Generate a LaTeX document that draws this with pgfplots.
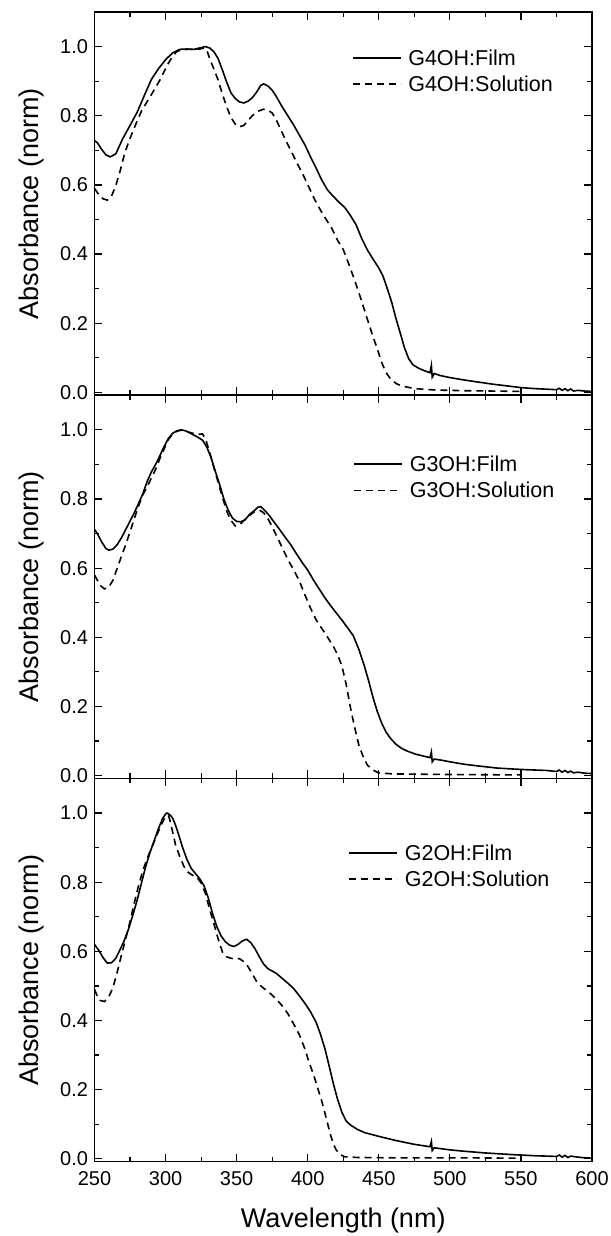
\documentclass[border=0pt]{standalone}
\usepackage{pgfplots}
\pgfplotsset{compat=1.18}
\usepackage{fontspec}
\setmainfont{Liberation Sans}

\pgfplotsset{
  panel/.style={
    width=497.5bp, height=383.2bp, scale only axis,
    xmin=250, xmax=600, ymin=-0.008, ymax=1.10,
    xtick={250,300,350,400,450,500,550,600}, minor x tick num=1,
    ytick={0,0.2,0.4,0.6,0.8,1.0}, minor y tick num=1,
    tick align=inside,
    major tick length=8bp, minor tick length=5bp,
    every tick/.style={line width=1.2bp, black},
    axis line style={line width=1.5bp},
    tick label style={font=\fontsize{20bp}{24bp}\selectfont},
    yticklabel style={/pgf/number format/fixed, /pgf/number format/fixed zerofill, /pgf/number format/precision=1, /pgf/number format/assume math mode=true, xshift=-3bp},
    xticklabel style={/pgf/number format/assume math mode=true, yshift=-6bp},
    ylabel={Absorbance (norm)},
    ylabel style={at={(axis description cs:-0.1276,0.5)}, anchor=center, font=\fontsize{27bp}{32bp}\selectfont},
    legend image code/.code={\draw[#1] (0bp,0bp) -- (48bp,0bp);},
    legend cell align=left,
    legend style={draw=none, fill=none, inner sep=0pt, outer sep=0pt,
      font=\fontsize{21.5bp}{25bp}\selectfont, row sep=9bp, column sep=7bp,
      nodes={inner sep=0pt}, anchor=north west},
  },
  film/.style={black, line width=1.6bp},
  sol/.style={black, line width=1.6bp, dash pattern=on 7bp off 5bp},
}

\begin{document}
\begin{tikzpicture}

% ---------- Panel 1: G4OH ----------
\begin{axis}[panel, name=p1, at={(0bp,0bp)}, anchor=north west, xticklabels={},
  legend style={at={(axis description cs:0.517,0.902)}}]
\addplot[film] coordinates {(250,0.728) (252,0.722) (255,0.703) (258,0.687) (261,0.681) (265,0.690) (270,0.735) (275,0.772) (280,0.810) (285,0.858) (290,0.905) (295,0.936) (300,0.962) (305,0.982) (310,0.992) (315,0.993) (320,0.992) (325,0.997) (328,1.0) (331,0.996) (334,0.985) (337,0.965) (340,0.932) (343,0.897) (346,0.866) (349,0.850) (352,0.840) (355,0.837) (358,0.842) (361,0.852) (364,0.868) (367,0.888) (369,0.892) (372,0.886) (375,0.874) (378,0.855) (382,0.826) (386,0.800) (390,0.774) (394,0.745) (398,0.716) (402,0.681) (406,0.648) (410,0.613) (414,0.585) (418,0.567) (422,0.550) (426,0.535) (430,0.512) (434,0.485) (438,0.445) (442,0.412) (446,0.385) (450,0.360) (453,0.336) (456,0.300) (459,0.262) (462,0.215) (465,0.173) (468,0.130) (471,0.098) (474,0.080) (478,0.070) (482,0.063) (486,0.057) (487,0.078) (487.6,0.044) (489,0.055) (493,0.049) (500,0.043) (510,0.036) (520,0.030) (530,0.024) (540,0.019) (550,0.014) (560,0.011) (570,0.009) (575,0.008) (577,0.012) (579,0.006) (581,0.011) (583,0.005) (585,0.010) (587,0.004) (590,0.006) (595,0.004) (600,0.003)};
\addlegendentry{G4OH:Film}
\addplot[sol] coordinates {(250,0.590) (253,0.572) (256,0.560) (259,0.556) (262,0.568) (265,0.598) (268,0.640) (271,0.688) (274,0.724) (277,0.755) (280,0.785) (283,0.813) (286,0.834) (289,0.854) (292,0.875) (296,0.903) (299,0.928) (302,0.952) (305,0.972) (308,0.986) (312,0.991) (316,0.992) (320,0.992) (324,0.993) (327,0.996) (329,0.990) (331,0.966) (334,0.935) (337,0.903) (340,0.862) (343,0.826) (346,0.795) (349,0.776) (352,0.768) (355,0.772) (358,0.786) (361,0.800) (365,0.813) (369,0.819) (372,0.816) (375,0.808) (378,0.787) (381,0.760) (385,0.725) (389,0.692) (393,0.659) (397,0.627) (401,0.592) (405,0.557) (409,0.527) (413,0.500) (417,0.474) (421,0.440) (425,0.413) (429,0.370) (433,0.325) (437,0.276) (441,0.224) (445,0.173) (449,0.125) (452,0.087) (455,0.058) (459,0.035) (463,0.024) (467,0.018) (475,0.011) (490,0.007) (510,0.005) (530,0.004) (550,0.003)};
\addlegendentry{G4OH:Solution}
\end{axis}

% ---------- Panel 2: G3OH ----------
\begin{axis}[panel, name=p2, at={(p1.south west)}, anchor=north west, xticklabels={},
  legend style={at={(axis description cs:0.520,0.842)}}]
\addplot[film] coordinates {(250,0.712) (252,0.700) (255,0.676) (258,0.657) (260,0.652) (263,0.655) (266,0.668) (269,0.688) (272,0.712) (275,0.736) (278,0.760) (281,0.787) (284,0.815) (287,0.850) (290,0.878) (293,0.900) (296,0.925) (299,0.952) (302,0.975) (305,0.990) (308,0.997) (311,1.0) (314,0.997) (318,0.989) (322,0.980) (326,0.970) (329,0.950) (332,0.920) (335,0.880) (338,0.842) (341,0.800) (344,0.768) (347,0.745) (350,0.735) (353,0.734) (356,0.740) (359,0.755) (362,0.765) (365,0.776) (367,0.778) (370,0.766) (373,0.752) (376,0.735) (380,0.713) (384,0.690) (388,0.668) (392,0.642) (396,0.617) (400,0.594) (404,0.566) (408,0.540) (412,0.515) (416,0.492) (420,0.471) (424,0.450) (428,0.428) (432,0.405) (436,0.365) (440,0.315) (443,0.272) (446,0.225) (449,0.185) (452,0.152) (455,0.127) (458,0.109) (462,0.091) (466,0.079) (470,0.071) (476,0.062) (482,0.056) (486,0.052) (487,0.068) (487.6,0.040) (489,0.048) (495,0.044) (500,0.040) (510,0.033) (520,0.028) (533,0.022) (545,0.019) (555,0.017) (568,0.015) (575,0.012) (577,0.016) (579,0.010) (581,0.015) (583,0.009) (585,0.013) (587,0.008) (590,0.010) (595,0.007) (600,0.006)};
\addlegendentry{G3OH:Film}
\addplot[sol] coordinates {(250,0.580) (252,0.565) (254,0.550) (257,0.540) (260,0.545) (263,0.565) (266,0.600) (269,0.635) (272,0.668) (275,0.705) (278,0.743) (281,0.780) (284,0.812) (287,0.835) (290,0.860) (293,0.886) (296,0.917) (299,0.945) (302,0.972) (305,0.988) (308,0.996) (311,0.999) (315,0.995) (319,0.990) (323,0.987) (326,0.988) (328,0.975) (331,0.935) (334,0.890) (337,0.848) (340,0.805) (343,0.765) (346,0.738) (349,0.722) (352,0.725) (355,0.737) (358,0.748) (362,0.762) (366,0.768) (369,0.760) (372,0.743) (375,0.720) (378,0.694) (382,0.660) (386,0.625) (390,0.596) (394,0.564) (398,0.523) (402,0.484) (406,0.450) (410,0.425) (414,0.400) (418,0.374) (421,0.350) (424,0.318) (427,0.265) (430,0.198) (433,0.140) (436,0.088) (439,0.055) (442,0.030) (446,0.016) (450,0.008) (460,0.005) (480,0.004) (510,0.003) (550,0.002)};
\addlegendentry{G3OH:Solution}
\end{axis}

% ---------- Panel 3: G2OH ----------
\begin{axis}[panel, name=p3, at={(p2.south west)}, anchor=north west,
  xlabel={Wavelength (nm)},
  xlabel style={at={(axis description cs:0.5,-0.155)}, anchor=center, font=\fontsize{27bp}{32bp}\selectfont},
  legend style={at={(axis description cs:0.510,0.8275)}}]
\addplot[film] coordinates {(250,0.620) (253,0.603) (256,0.582) (259,0.566) (262,0.567) (265,0.580) (268,0.605) (271,0.632) (274,0.665) (277,0.705) (280,0.748) (283,0.797) (286,0.845) (289,0.885) (292,0.920) (295,0.955) (298,0.985) (300,0.997) (301,1.0) (303,0.995) (305,0.985) (307,0.965) (309,0.940) (312,0.900) (315,0.866) (318,0.840) (321,0.825) (324,0.810) (327,0.790) (330,0.755) (333,0.710) (336,0.672) (339,0.645) (342,0.628) (345,0.618) (348,0.614) (351,0.620) (354,0.630) (357,0.635) (360,0.625) (363,0.607) (366,0.584) (369,0.563) (372,0.550) (375,0.543) (378,0.536) (382,0.522) (386,0.508) (390,0.493) (394,0.472) (398,0.450) (402,0.425) (406,0.394) (409,0.360) (412,0.320) (415,0.270) (418,0.218) (421,0.172) (424,0.135) (427,0.110) (430,0.098) (435,0.085) (440,0.076) (450,0.065) (462,0.053) (475,0.042) (486,0.035) (487,0.050) (487.6,0.024) (489,0.032) (500,0.026) (510,0.022) (525,0.017) (545,0.012) (560,0.009) (575,0.007) (577,0.011) (579,0.005) (581,0.010) (583,0.004) (585,0.008) (590,0.005) (595,0.003) (600,0.002)};
\addlegendentry{G2OH:Film}
\addplot[sol] coordinates {(250,0.490) (252,0.470) (254,0.458) (257,0.455) (260,0.468) (263,0.495) (266,0.540) (269,0.590) (272,0.637) (275,0.686) (278,0.740) (281,0.790) (284,0.833) (287,0.868) (290,0.898) (293,0.927) (296,0.957) (299,0.983) (301,0.993) (302,0.993) (303,0.980) (305,0.945) (307,0.908) (310,0.874) (313,0.845) (316,0.828) (319,0.820) (322,0.814) (325,0.798) (328,0.768) (331,0.722) (334,0.680) (337,0.636) (340,0.598) (343,0.584) (346,0.580) (349,0.578) (352,0.579) (355,0.570) (358,0.556) (361,0.535) (364,0.513) (367,0.500) (370,0.490) (374,0.477) (378,0.461) (382,0.443) (386,0.420) (390,0.391) (394,0.360) (398,0.318) (401,0.278) (404,0.245) (407,0.205) (410,0.165) (413,0.118) (416,0.070) (418,0.043) (420,0.026) (423,0.012) (426,0.006) (435,0.004) (460,0.003) (500,0.003) (550,0.002)};
\addlegendentry{G2OH:Solution}
\end{axis}

\pgfresetboundingbox
\path[use as bounding box] (p1.north west) ++(-94.5bp,12bp) rectangle ++(611bp,-1236bp);
\end{tikzpicture}
\end{document}
